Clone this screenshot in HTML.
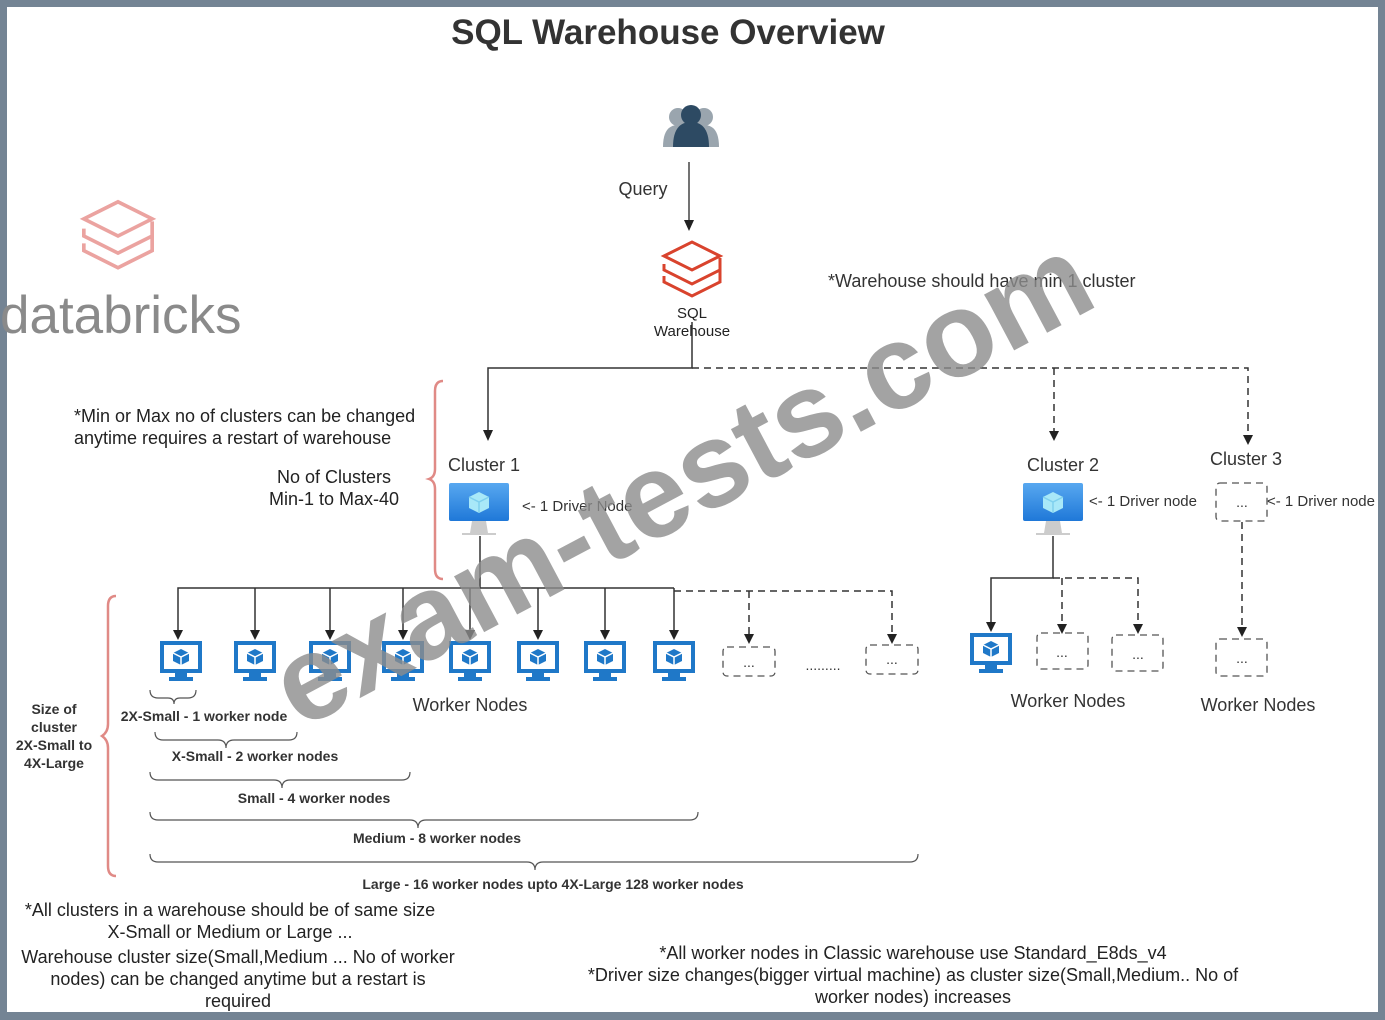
<!DOCTYPE html>
<html><head><meta charset="utf-8"><style>
html,body{margin:0;padding:0;background:#748494;}
svg{display:block;font-family:"Liberation Sans",sans-serif;}
</style></head><body>
<svg width="1385" height="1020" viewBox="0 0 1385 1020" xmlns="http://www.w3.org/2000/svg">
<defs>
<g id="wk">
<rect x="-19" y="0" width="38" height="28" fill="#fff" stroke="#1f78c8" stroke-width="4"/>
<path d="M-6,28 h12 v6 h6 v4 h-24 v-4 h6z" fill="#1f78c8"/>
<path d="M0,6 l8,4 v8 l-8,4 l-8,-4 v-8z" fill="#1f78c8"/>
<path d="M-8,10 l8,4 l8,-4 M0,14 v8" stroke="#fff" stroke-width="1.5" fill="none"/>
</g>
<linearGradient id="dg" x1="0" y1="0" x2="0" y2="1"><stop offset="0" stop-color="#58a8f0"/><stop offset="1" stop-color="#1f78d8"/></linearGradient>
<g id="drv">
<rect x="-30" y="0" width="60" height="38" rx="2" fill="url(#dg)"/>
<path d="M-7,38 h14 l2,12 h8 v2 h-34 v-2 h8z" fill="#ccc"/>
<path d="M0,9 l10,5 v11 l-10,5 l-10,-5 v-11z" fill="#a8e8f8"/>
<path d="M-10,14 l10,5 l10,-5 M0,19 v11" stroke="#7fd0ee" stroke-width="1.5" fill="none"/>
</g>
<g id="db" fill="none" stroke-width="3">
<path d="M-28,-14 L0,-28 L28,-14 L0,0 Z"/>
<path d="M-28,-6 V0 L0,14 L28,0 V-12"/>
<path d="M-28,6 V12 L0,26 L28,12 V0"/>
</g>
</defs>
<rect x="7" y="7" width="1371" height="1005" fill="#fff"/>
<text x="668" y="44" font-size="35" font-weight="bold" fill="#333" text-anchor="middle">SQL Warehouse Overview</text>

<use href="#db" transform="translate(118,236) scale(1.22)" stroke="#eba3a0"/>
<text x="0" y="333" font-size="53" fill="#8a8a8a">databricks</text>

<g>
<circle cx="678" cy="117" r="9" fill="#9aa5ae"/><path d="M663,147 q0,-22 15,-22 q15,0 15,22z" fill="#9aa5ae"/>
<circle cx="704" cy="117" r="9" fill="#9aa5ae"/><path d="M689,147 q0,-22 15,-22 q15,0 15,22z" fill="#9aa5ae"/>
<circle cx="691" cy="115" r="10" fill="#2d4a63"/><path d="M673,147 q0,-25 18,-25 q18,0 18,25z" fill="#2d4a63"/>
</g>
<line x1="689" y1="162" x2="689" y2="222" stroke="#444" stroke-width="1.5"/>
<path d="M684,220 l5,11 l5,-11z" fill="#222"/>
<text x="643" y="195" font-size="18" fill="#333" text-anchor="middle">Query</text>
<use href="#db" transform="translate(692,270) scale(1)" stroke="#d9432d"/>
<text x="692" y="318" font-size="15" fill="#222" text-anchor="middle">SQL</text>
<text x="692" y="336" font-size="15" fill="#222" text-anchor="middle">Warehouse</text>
<text x="828" y="287" font-size="18" fill="#333">*Warehouse should have min 1 cluster</text>

<path d="M692,322 V368 H488 V432" fill="none" stroke="#333" stroke-width="1.5"/>
<path d="M483,430 l5,11 l5,-11z" fill="#222"/>
<path d="M692,368 H1248 V444 M1054,368 V440" fill="none" stroke="#333" stroke-width="1.5" stroke-dasharray="7,5"/>
<path d="M1049,431 l5,10 l5,-10z M1243,435 l5,10 l5,-10z" fill="#222"/>

<text x="74" y="422" font-size="18" fill="#222">*Min or Max no of clusters can be changed</text>
<text x="74" y="444" font-size="18" fill="#222">anytime requires a restart of warehouse</text>
<text x="334" y="483" font-size="18" fill="#222" text-anchor="middle">No of Clusters</text>
<text x="334" y="505" font-size="18" fill="#222" text-anchor="middle">Min-1 to Max-40</text>
<path d="M443,381 q-8,0 -8,10 v78 q0,8 -6,10 q6,2 6,10 v80 q0,10 8,10" fill="none" stroke="#e08a86" stroke-width="2.5"/>

<text x="448" y="471" font-size="18" fill="#333">Cluster 1</text>
<use href="#drv" transform="translate(479,483)"/>
<text x="522" y="511" font-size="15" fill="#333">&lt;- 1 Driver Node</text>
<path d="M480,536 V588 H178 V630" fill="none" stroke="#333" stroke-width="1.5"/>
<path d="M480,588 H674" fill="none" stroke="#333" stroke-width="1.5"/>
<g stroke="#333" stroke-width="1.5">
<line x1="255" y1="588" x2="255" y2="631"/><line x1="330" y1="588" x2="330" y2="631"/>
<line x1="403" y1="588" x2="403" y2="631"/><line x1="470" y1="588" x2="470" y2="631"/>
<line x1="538" y1="588" x2="538" y2="631"/><line x1="605" y1="588" x2="605" y2="631"/>
<line x1="674" y1="588" x2="674" y2="631"/>
</g>
<path d="M674,591 H892 V636 M749,591 V636" fill="none" stroke="#333" stroke-width="1.5" stroke-dasharray="7,5"/>
<g fill="#222">
<path d="M173,630 l5,10 l5,-10z"/><path d="M250,630 l5,10 l5,-10z"/><path d="M325,630 l5,10 l5,-10z"/>
<path d="M398,630 l5,10 l5,-10z"/><path d="M465,630 l5,10 l5,-10z"/><path d="M533,630 l5,10 l5,-10z"/>
<path d="M600,630 l5,10 l5,-10z"/><path d="M669,630 l5,10 l5,-10z"/><path d="M744,634 l5,10 l5,-10z"/><path d="M887,634 l5,10 l5,-10z"/>
</g>
<use href="#wk" x="181" y="643"/><use href="#wk" x="255" y="643"/><use href="#wk" x="330" y="643"/>
<use href="#wk" x="403" y="643"/><use href="#wk" x="470" y="643"/><use href="#wk" x="538" y="643"/>
<use href="#wk" x="605" y="643"/><use href="#wk" x="674" y="643"/>
<rect x="723" y="647" width="52" height="29" rx="4" fill="none" stroke="#555" stroke-width="1.3" stroke-dasharray="7,5"/>
<text x="749" y="667" font-size="14" fill="#333" text-anchor="middle">...</text>
<rect x="866" y="645" width="52" height="29" rx="4" fill="none" stroke="#555" stroke-width="1.3" stroke-dasharray="7,5"/>
<text x="892" y="664" font-size="14" fill="#333" text-anchor="middle">...</text>
<text x="823" y="670" font-size="14" fill="#333" text-anchor="middle">.........</text>
<text x="470" y="711" font-size="18" fill="#333" text-anchor="middle">Worker Nodes</text>

<text x="1027" y="471" font-size="18" fill="#333">Cluster 2</text>
<use href="#drv" transform="translate(1053,483)"/>
<text x="1089" y="506" font-size="15" fill="#333">&lt;- 1 Driver node</text>
<path d="M1053,536 V578 H991 V624" fill="none" stroke="#333" stroke-width="1.5"/>
<path d="M1053,578 H1138 V626 M1062,578 V626" fill="none" stroke="#333" stroke-width="1.5" stroke-dasharray="7,5"/>
<g fill="#222"><path d="M986,622 l5,10 l5,-10z"/><path d="M1057,624 l5,10 l5,-10z"/><path d="M1133,624 l5,10 l5,-10z"/></g>
<use href="#wk" x="991" y="635"/>
<rect x="1037" y="633" width="51" height="36" rx="4" fill="none" stroke="#555" stroke-width="1.3" stroke-dasharray="7,5"/>
<text x="1062" y="657" font-size="14" fill="#333" text-anchor="middle">...</text>
<rect x="1112" y="635" width="51" height="36" rx="4" fill="none" stroke="#555" stroke-width="1.3" stroke-dasharray="7,5"/>
<text x="1138" y="659" font-size="14" fill="#333" text-anchor="middle">...</text>
<text x="1068" y="707" font-size="18" fill="#333" text-anchor="middle">Worker Nodes</text>

<text x="1210" y="465" font-size="18" fill="#333">Cluster 3</text>
<rect x="1216" y="483" width="51" height="38" rx="4" fill="none" stroke="#555" stroke-width="1.3" stroke-dasharray="7,5"/>
<text x="1242" y="507" font-size="14" fill="#333" text-anchor="middle">...</text>
<text x="1267" y="506" font-size="15" fill="#333">&lt;- 1 Driver node</text>
<path d="M1242,522 V630" fill="none" stroke="#333" stroke-width="1.5" stroke-dasharray="7,5"/>
<path d="M1237,627 l5,10 l5,-10z" fill="#222"/>
<rect x="1216" y="639" width="51" height="37" rx="4" fill="none" stroke="#555" stroke-width="1.3" stroke-dasharray="7,5"/>
<text x="1242" y="663" font-size="14" fill="#333" text-anchor="middle">...</text>
<text x="1258" y="711" font-size="18" fill="#333" text-anchor="middle">Worker Nodes</text>

<path d="M116,596 q-8,0 -8,10 v118 q0,8 -6,12 q6,4 6,12 v118 q0,10 8,10" fill="none" stroke="#e08a86" stroke-width="2.5"/>
<g font-size="14" font-weight="bold" fill="#333" text-anchor="middle">
<text x="54" y="714">Size of</text><text x="54" y="732">cluster</text>
<text x="54" y="750">2X-Small to</text><text x="54" y="768">4X-Large</text>
</g>
<g fill="none" stroke="#555" stroke-width="1.2">
<path d="M150,690 q0,8 8,8 h10 q6,0 6,6 q0,-6 6,-6 h8 q8,0 8,-8"/>
<path d="M155,732 q0,8 8,8 h55 q8,0 8,8 q0,-8 8,-8 h55 q8,0 8,-8"/>
<path d="M150,772 q0,8 8,8 h116 q8,0 8,8 q0,-8 8,-8 h112 q8,0 8,-8"/>
<path d="M150,812 q0,8 8,8 h252 q8,0 8,8 q0,-8 8,-8 h264 q8,0 8,-8"/>
<path d="M150,854 q0,8 8,8 h369 q8,0 8,8 q0,-8 8,-8 h367 q8,0 8,-8"/>
</g>
<g font-size="14" font-weight="bold" fill="#333" text-anchor="middle">
<text x="204" y="721">2X-Small - 1  worker node</text>
<text x="255" y="761">X-Small - 2 worker nodes</text>
<text x="314" y="803">Small - 4 worker nodes</text>
<text x="437" y="843">Medium - 8 worker nodes</text>
<text x="553" y="889">Large - 16 worker nodes  upto 4X-Large 128 worker nodes</text>
</g>

<g font-size="18" fill="#222" text-anchor="middle">
<text x="230" y="916">*All clusters in a warehouse should be of same size</text>
<text x="230" y="938">X-Small or Medium or Large ...</text>
<text x="238" y="963">Warehouse cluster size(Small,Medium ... No of worker</text>
<text x="238" y="985">nodes) can be changed anytime but a restart is</text>
<text x="238" y="1007">required</text>
<text x="913" y="959">*All worker nodes in Classic warehouse use Standard_E8ds_v4</text>
<text x="913" y="981">*Driver size changes(bigger virtual machine) as cluster size(Small,Medium.. No of</text>
<text x="913" y="1003">worker nodes) increases</text>
</g>

<text x="0" y="0" font-size="120" font-weight="bold" fill="#8c8c8c" fill-opacity="0.8" transform="translate(300,730) rotate(-28)">exam-tests.com</text>
</svg>
</body></html>
